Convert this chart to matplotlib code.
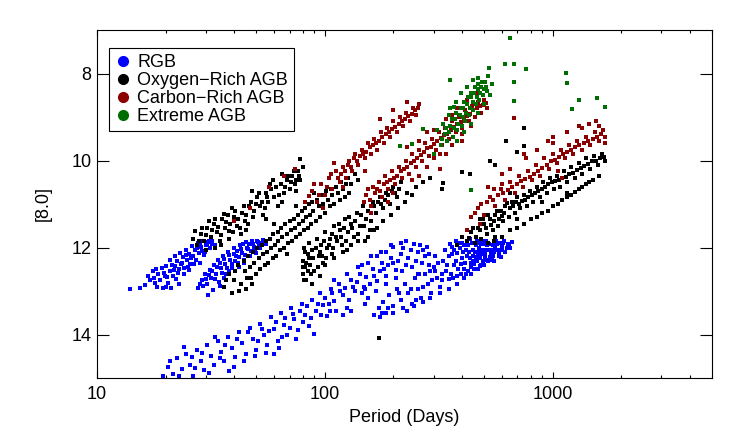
import numpy as np
import matplotlib
matplotlib.use("Agg")
import matplotlib.pyplot as plt
from matplotlib.lines import Line2D
from matplotlib.ticker import FixedLocator, LogLocator, NullFormatter

plt.rcParams['font.family'] = ['Liberation Sans', 'DejaVu Sans']

# (period in days, [8.0] mag), one list per clump

# RGB
rgb_a = [(15.5,12.93),(16.2,12.86),(17.1,12.75),(18.0,12.82),(18.6,12.61),(18.9,12.75),
         (19.3,12.47),(19.9,12.66),(20.1,12.43),(20.5,12.82),(20.9,12.29),(20.9,12.54),
         (21.6,12.66),(22.0,12.20),(22.0,12.43),(22.5,12.31),(22.7,12.59),(23.2,12.13),
         (23.4,12.38),(23.9,12.22),(24.2,12.47),(24.7,12.06),(24.9,12.29),(25.4,12.15),
         (25.6,12.38),(26.2,11.97),(26.4,12.20),(26.9,12.06),(27.2,12.29),(27.7,11.90),
         (28.0,12.13),(28.6,11.99),(29.2,11.85),(29.5,12.18),(30.1,11.95),(30.7,11.88),
         (31.3,12.02),(31.9,11.85),(19.5,12.93),(21.2,12.93),(25.4,12.52),(28.3,12.36),
         (32.9,11.95),(17.6,12.55),(24.0,12.60),(14.0,12.95),
         (16.8,12.65),(17.8,12.70),(18.3,12.90),(19.6,12.58),(20.3,12.68),(21.3,12.40),
         (21.8,12.52),(22.3,12.73),(23.0,12.50),(23.7,12.35),(24.5,12.18),(25.1,12.45),
         (25.9,12.25),(26.7,12.38),(27.5,12.02),(28.3,11.95),(29.0,12.08),(29.9,12.10),
         (30.5,11.92),(31.0,11.86),(32.0,11.92),(18.2,12.50),(20.0,12.90),(22.8,12.85)]
rgb_b = [(27.7,12.93),(28.9,12.75),(29.8,12.61),(30.4,12.84),(31.3,12.52),(31.6,12.70),
         (32.6,12.40),(33.3,12.61),(33.9,12.29),(34.3,12.79),(35.0,12.47),(35.8,12.20),
         (36.5,12.38),(36.9,12.61),(37.6,12.11),(38.4,12.29),(39.3,12.47),(40.1,12.02),
         (40.9,12.20),(41.7,12.36),(42.5,11.95),(43.4,12.13),(44.3,12.29),(45.1,11.88),
         (46.1,12.04),(47.0,12.20),(48.0,11.85),(49.0,11.99),(50.0,12.13),(51.0,11.88),
         (52.0,12.02),(53.6,11.83),(55.1,11.93),(32.3,12.98),(34.7,12.88),(30.7,13.10),
         (38.0,12.55),(44.0,12.35),(40.0,12.00),
         (29.2,12.88),(30.0,12.72),(31.0,12.63),(32.0,12.55),(32.9,12.72),(33.7,12.45),
         (34.6,12.35),(35.4,12.58),(36.2,12.27),(37.2,12.48),(38.0,12.18),(39.0,12.38),
         (39.8,12.15),(40.5,12.30),(41.3,12.08),(42.0,12.22),(43.0,12.03),(43.8,11.92),
         (44.8,12.18),(45.6,12.00),(46.6,11.92),(47.5,12.08),(48.5,11.92),(49.5,12.05),
         (50.5,11.86),(51.5,11.96),(52.8,11.90),(54.2,11.88),(28.3,12.85),(36.0,12.70),
         (42.0,12.45)]
rgb_c1 = [(19.5,14.95),(20.5,14.75),(21.5,14.90),(22.5,14.55),(23.5,14.80),(24.5,14.45),
          (25.5,14.70),(26.5,14.95),(27.5,14.35),(28.5,14.60),(29.5,14.82),(30.5,14.25),
          (31.5,14.50),(32.5,14.70),(34.0,14.15),(35.0,14.40),(36.0,14.62),(37.5,14.05),
          (39.0,14.30),(40.5,14.52),(42.0,13.95),(43.5,14.20),(45.0,14.45),(47.0,13.85),
          (48.5,14.10),(50.0,14.35),(52.0,13.75),(54.0,14.00),(56.0,14.25),(58.0,13.60),
          (60.0,13.88),(62.0,14.15),(64.0,13.50),(66.0,13.78),(68.5,14.02),(71.0,13.40),
          (73.5,13.65),(76.0,13.90),(79.0,13.30),(82.0,13.55),(85.0,13.80),(88.0,13.20),
          (91.0,13.45),(95.0,13.05),(98.0,13.32),(102.0,13.58),(106.0,12.95),(110.0,13.22),
          (115.0,12.85),(120.0,13.10),(125.0,13.38),(130.0,12.75),(136.0,13.00),(142.0,12.62),
          (148.0,12.90),(155.0,13.15),(162.0,12.50),(170.0,12.78),(178.0,12.35),(186.0,12.65),
          (195.0,12.25),(205.0,12.52),(215.0,12.15),(226.0,12.40),(238.0,12.05),(250.0,12.30),
          (262.0,11.95),(275.0,12.20),(290.0,12.55),(120.0,13.55),(105.0,13.45),(60.0,14.45),
          (40.0,14.75),
          (21.0,14.62),(23.0,14.95),(24.0,14.28),(26.0,14.52),(27.0,14.78),(29.0,14.42),
          (31.0,14.88),(33.0,14.05),(34.5,14.55),(36.5,14.25),(38.0,14.85),(41.0,14.10),
          (44.0,14.62),(46.0,13.95),(49.5,14.50),(51.0,14.15),(53.0,13.88),(55.0,14.42),
          (57.0,13.92),(61.0,13.72),(63.0,14.30),(65.0,14.05),(67.0,13.62),(70.0,13.85),
          (72.5,13.52),(75.0,14.10),(77.5,13.45),(80.5,13.72),(83.5,13.35),(86.5,13.62),
          (89.5,13.98),(93.0,13.30),(96.5,13.55),(100.0,13.15),(104.0,13.30),(108.0,13.05),
          (112.0,13.45),(117.0,13.00),(122.0,12.92),(128.0,13.20),(133.0,12.90),(139.0,12.80),
          (145.0,13.05),(152.0,12.68),(158.0,12.85),(165.0,12.65),(174.0,12.55),(182.0,12.50),
          (190.0,12.40),(200.0,12.35),(210.0,12.30),(220.0,12.00),(232.0,12.25),(245.0,11.92),
          (256.0,12.10),(268.0,12.35),(280.0,11.98),
          (110.0,12.75),(125.0,12.60),(140.0,12.45),(155.0,12.35),(170.0,12.20),(185.0,12.10),
          (200.0,11.98),(215.0,11.90),(150.0,13.30),(130.0,13.45),(145.0,12.40),(150.0,12.95),
          (160.0,12.20),(168.0,13.00),(176.0,12.10),(185.0,12.85),(195.0,11.95),(205.0,12.70),
          (218.0,12.55),(228.0,11.85),(240.0,12.45),(255.0,12.62),(270.0,12.05),(285.0,12.15)]
rgb_c2 = [(165,13.55),(172,13.40),(180,13.25),(185,13.50),(192,13.10),(200,13.35),
          (208,12.95),(216,13.20),(224,12.85),(232,13.05),(240,13.30),(248,12.70),
          (256,12.95),(265,13.15),(274,12.60),(283,12.85),(292,13.05),(300,12.45),
          (310,12.70),(320,12.90),(330,12.30),(340,12.55),(350,12.72),(360,12.15),
          (370,12.40),(380,12.65),(390,12.00),(400,12.25),(410,12.50),(420,11.88),
          (430,12.10),(440,12.35),(450,12.50),(460,11.95),(470,12.18),(480,12.42),
          (490,11.85),(500,12.05),(512,12.28),(525,11.92),(538,12.15),(550,12.30),
          (562,11.85),(575,12.05),(590,12.22),(605,11.90),(620,12.10),(640,11.95),
          (660,11.88),(335,12.05),(355,11.92),(375,11.85),(395,12.62),(415,12.60),
          (435,11.80),(455,12.50),(485,12.40),(285,12.40),(305,12.20),(260,12.60),
          (445,12.05),(470,11.90),(520,12.32),(400,11.90),(365,12.70),(425,12.55),
          (305,12.55),(315,12.35),(325,12.75),(345,12.40),(358,12.60),(368,12.05),
          (378,12.30),(385,12.50),(392,11.90),(405,12.10),(412,12.35),(418,12.05),
          (425,11.95),(432,12.25),(438,12.45),(443,11.90),(448,12.20),(453,12.38),
          (458,12.10),(463,11.85),(467,12.30),(473,12.02),(478,12.25),(483,11.92),
          (488,12.15),(494,12.30),(498,11.92),(505,12.15),(510,11.85),(518,12.05),
          (530,12.22),(545,11.95),(555,12.10),(568,11.92),(582,12.15),(597,11.98),
          (612,11.85),(630,12.02),(230,13.45),(250,13.20),(270,12.90),(295,12.75),
          (325,12.60),(190,13.40),(178,13.50),(212,13.05),(238,12.95),
          (175,13.60),(200,13.50),(220,13.40),(245,13.35),(270,13.25),(290,13.15),
          (320,13.05),(350,12.95),(380,12.85),(410,12.70),(440,12.60),(470,12.50),
          (500,12.40),(540,12.28),(580,12.20),(352,12.20),(362,11.98),(382,12.12),
          (397,12.38),(408,11.95),(422,12.20),(446,12.30),(462,12.22),(476,12.10),
          (492,12.05),(503,12.25),(515,11.95),(535,12.05),(548,12.20),(560,12.00),
          (587,11.90),(600,12.05),(635,11.92),(650,12.00)]

# Oxygen-rich AGB
orich_1 = [(26.5,11.80),(27.5,11.95),(28.5,11.70),(29.5,11.85),(30.5,11.55),(31.5,11.75),
           (32.5,11.45),(33.5,11.65),(34.5,11.85),(35.5,11.35),(36.5,11.55),(37.5,11.25),
           (38.5,11.45),(39.5,11.65),(40.5,11.15),(41.5,11.35),(42.5,11.55),(44.0,11.05),
           (45.0,11.25),(46.0,11.45),(47.5,10.95),(49.0,11.15),(50.5,10.85),(52.0,11.05),
           (53.5,11.25),(55.0,10.75),(56.5,10.95),(58.0,10.65),(60.0,10.85),(62.0,11.05),
           (64.0,10.55),(66.0,10.75),(68.0,10.45),(70.0,10.65),(72.0,10.35),(74.0,10.55),
           (76.0,10.25),(78.0,10.45),(80.0,10.15),(48.0,10.70),(38.0,11.80),(43.0,11.70),
           (59.0,10.45),(65.0,10.30),(33.0,12.00),(78.0,9.96),
           (27.0,11.62),(28.0,11.85),(29.0,11.55),(30.0,11.72),(31.0,11.40),(32.0,11.60),
           (33.0,11.35),(34.0,11.52),(35.0,11.72),(36.0,11.22),(37.0,11.42),(38.0,11.62),
           (39.0,11.10),(40.0,11.30),(41.0,11.50),(43.5,11.20),(44.5,11.40),(46.5,11.05),
           (48.5,11.30),(50.0,11.00),(51.5,10.75),(53.0,10.95),(54.5,11.10),(56.0,10.85),
           (57.5,10.55),(61.0,10.62),(63.0,10.80),(67.0,10.60),(69.0,10.35),(71.0,10.50),
           (73.0,10.25),(75.0,10.45),(77.0,10.35),
           (35.0,11.95),(45.0,11.60),(55.0,11.35),(65.0,10.95),(75.0,10.70),(30.0,12.05)]
orich_2 = [(36,12.90),(38,12.60),(39,13.05),(40,12.75),(41.5,12.40),(43,12.85),
           (44.5,12.55),(46,12.20),(47.5,12.70),(49,12.35),(50.5,12.00),(52,12.50),
           (53.5,12.15),(55,11.85),(56.5,12.35),(58,12.00),(59.5,11.70),(61,12.20),
           (62.5,11.85),(64,11.55),(66,12.00),(68,11.70),(70,11.40),(72,11.85),
           (74,11.55),(76,11.25),(78,11.70),(80,11.40),(82,11.10),(84,11.55),
           (86,11.25),(88,10.95),(91,11.40),(94,11.05),(97,10.80),(100,11.20),
           (103,10.90),(106,10.65),(110,11.00),(114,10.75),(118,10.50),(122,10.85),
           (126,10.40),(60,11.45),(75,11.05),(90,10.75),(45,12.95),(48,12.85),
           (68,12.15),
           (37,12.75),(40.5,12.55),(42,13.00),(44,12.30),(45.5,12.70),(47,12.45),
           (48.5,12.10),(50,12.60),(51.5,12.25),(53,11.95),(54.5,12.40),(56,12.10),
           (57.5,11.80),(59,12.25),(60.5,11.95),(62,11.65),(63.5,12.05),(65,11.75),
           (67,11.45),(69,11.90),(71,11.60),(73,11.35),(75,11.75),(77,11.45),
           (79,11.15),(81,11.60),(83,11.30),(85,11.00),(87,11.45),(89,11.15),
           (92,10.90),(95,11.30),(98,11.00),(101,10.70),(105,11.05),(108,10.80),
           (112,10.60),(116,10.90),(120,10.65),(124,10.55),
           (130,10.55),(135,10.30),(140,10.45),(128,10.75)]
orich_3 = [(80.5,12.30),(80.5,12.60),(81,12.00),(82,12.45),(83,12.75),(84,12.15),
           (85,11.90),(86,12.40),(88,12.05),(90,12.55),(92,11.80),(94,12.20),
           (96,11.95),(98,12.35),(100,11.65),(102,12.00),(105,11.80),(108,12.15),
           (110,11.50),(113,11.85),(116,11.60),(119,11.95),(122,11.35),(126,11.65),
           (130,11.45),(134,11.75),(138,11.20),(142,11.50),(147,11.05),(152,11.35),
           (157,11.60),(162,10.95),(168,11.20),(174,10.85),(180,11.10),(186,10.75),
           (193,11.00),(200,10.60),(208,10.85),(216,10.50),(150,11.85),(170,11.55),
           (95,12.65),(88,12.85),(125,12.05),
           (80.5,12.45),(81,12.75),(82,12.10),(83,12.35),(84,12.55),(85,12.25),
           (87,12.60),(89,12.25),(91,12.00),(93,12.45),(95,12.10),(97,12.20),
           (99,11.85),(101,12.25),(104,11.95),(107,11.70),(109,12.00),(112,11.75),
           (115,11.45),(118,11.75),(121,11.55),(124,11.85),(128,11.30),(132,11.55),
           (136,11.40),(140,11.70),(144,11.25),(149,11.50),(155,11.15),(160,11.40),
           (165,11.05),(171,10.95),(177,11.00),(183,10.90),(190,10.80),(197,10.70),
           (204,10.75),(212,10.65),
           (100,12.40),(110,12.25),(120,12.10),(130,11.95),(140,11.85),(155,11.75),
           (165,11.60),(180,11.40),(195,11.25),(210,11.10),(225,10.95),(240,10.80),
           (230,10.75),(250,10.60),(270,10.50),(290,10.40)]
orich_4 = [(420,11.85),(440,11.65),(455,11.90),(470,11.55),(485,11.80),(500,11.45),
           (515,11.70),(530,11.35),(545,11.60),(560,11.25),(575,11.50),(590,11.15),
           (605,11.40),(620,11.05),(640,11.30),(660,10.95),(680,11.20),(700,10.85),
           (720,11.10),(745,10.80),(770,11.05),(795,10.70),(820,10.95),(850,10.60),
           (880,10.85),(910,10.50),(940,10.75),(975,10.40),(1010,10.65),(1045,10.35),
           (1080,10.60),(1120,10.25),(1160,10.50),(1200,10.15),(1250,10.40),(1300,10.05),
           (1350,10.30),(1400,9.95),(1460,10.20),(1520,9.90),(1580,10.10),(1650,9.85),
           (1700,10.00),(560,11.75),(700,11.35),(900,10.95),(1150,10.75),(480,11.35),
           (650,10.75),(380,11.95),(400,11.75),
           (430,11.78),(448,11.55),(462,11.75),(478,11.60),(492,11.35),(508,11.55),
           (522,11.25),(538,11.48),(552,11.40),(568,11.15),(582,11.35),(598,11.28),
           (612,11.20),(630,10.98),(648,11.10),(670,11.05),(690,10.95),(710,11.00),
           (732,10.92),(757,10.90),(782,10.85),(808,10.80),(835,10.75),(865,10.70),
           (895,10.65),(925,10.62),(958,10.55),(990,10.50),(1028,10.48),(1062,10.45),
           (1100,10.40),(1140,10.38),(1180,10.30),(1225,10.28),(1275,10.22),(1325,10.18),
           (1375,10.12),(1430,10.08),(1490,10.02),(1550,10.00),(1615,9.95),(1680,9.92),
           (600,11.75),(700,11.55),(800,11.35),(900,11.20),(1000,11.05),(1100,10.90),
           (1200,10.80),(1300,10.65),(1400,10.55),(1500,10.45),(650,11.60),(750,11.45),
           (850,11.30),(950,11.15),(1050,11.00),(1150,10.85),(1250,10.72),(1350,10.60),
           (1450,10.50),(1600,10.35),(550,11.85),(520,11.90)]
orich_sparse = [(749,9.26),(749,9.67),(624,9.55),(400,10.26),(435,10.31),(325,10.65),
                (330,10.51),(530,10.01),(172,14.09),(700,9.80),(560,10.10)]

# Carbon-rich AGB
crich_1 = [(40,11.40),(47,11.10),(57,10.60),(66,10.35),(74,10.20)]
crich_2 = [(82,10.95),(88,10.70),(92,10.95),(96,10.55),(100,10.80),(104,10.40),
           (108,10.65),(112,10.25),(116,10.50),(120,10.15),(124,10.40),(128,10.00),
           (132,10.25),(136,9.85),(140,10.10),(145,9.75),(150,9.95),(155,9.60),
           (160,9.85),(165,9.50),(170,9.75),(176,9.35),(182,9.60),(188,9.25),
           (194,9.45),(200,9.10),(207,9.35),(214,9.00),(221,9.20),(228,8.90),
           (236,9.10),(244,8.80),(252,8.95),(260,8.70),(150,10.25),(120,10.60),
           (175,9.05),(200,8.85),(230,8.65),(110,10.05),(98,11.10),
           (85,10.82),(90,10.55),(94,10.80),(102,10.60),(106,10.30),(114,10.40),
           (118,10.30),(122,10.25),(126,10.10),(130,10.15),(134,9.95),(138,10.00),
           (143,9.90),(147,9.85),(152,9.80),(158,9.70),(163,9.65),(168,9.60),
           (173,9.55),(179,9.45),(185,9.40),(191,9.35),(197,9.28),(204,9.22),
           (211,9.15),(218,9.10),(225,9.05),(232,8.98),(240,8.92),(248,8.85),
           (256,8.80)]
crich_3 = [(148,10.95),(155,10.65),(160,11.05),(166,10.75),(172,10.50),(178,10.85),
           (184,10.35),(190,10.65),(197,10.25),(204,10.55),(211,10.15),(218,10.40),
           (226,10.00),(234,10.30),(242,9.85),(250,10.15),(258,9.75),(267,10.00),
           (276,9.60),(286,9.90),(296,9.50),(306,9.75),(316,9.35),(327,9.65),
           (338,9.25),(350,9.50),(362,9.10),(375,9.35),(388,9.00),(400,9.25),
           (414,8.85),(428,9.10),(442,8.75),(456,9.00),(470,8.65),(485,8.90),
           (500,8.60),(515,8.80),(260,10.35),(300,9.95),(230,9.70),(280,9.35),
           (340,9.85),(400,9.55),(190,10.95),(320,10.20),(360,8.95),
           (152,10.80),(158,10.90),(163,10.60),(169,10.65),(175,10.70),(181,10.55),
           (187,10.50),(194,10.45),(201,10.40),(208,10.35),(215,10.25),(222,10.20),
           (230,10.15),(238,10.05),(246,10.00),(254,9.95),(263,9.88),(272,9.80),
           (281,9.72),(291,9.68),(301,9.62),(311,9.55),(322,9.48),(333,9.42),
           (344,9.38),(356,9.30),(368,9.22),(381,9.15),(394,9.12),(407,9.05),
           (421,8.98),(435,8.92),(449,8.85),(463,8.80),(478,8.75),(492,8.72),
           (508,8.68),
           (160,11.20),(200,10.75),(240,10.45),(280,10.15),(320,9.85),(360,9.65),
           (400,9.40),(440,9.20),(260,9.55),(300,9.30),(340,9.05),(380,8.80),
           (420,8.60),(460,8.45)]
crich_4 = [(440,11.30),(470,11.10),(500,11.25),(530,10.85),(560,11.05),(590,10.65),
           (620,10.90),(650,10.50),(680,10.75),(710,10.35),(740,10.60),(775,10.25),
           (810,10.45),(845,10.10),(880,10.35),(920,9.95),(960,10.20),(1000,9.85),
           (1040,10.05),(1085,9.75),(1130,9.95),(1180,9.65),(1230,9.85),(1280,9.55),
           (1340,9.75),(1400,9.45),(1460,9.65),(1530,9.35),(1600,9.55),(1660,9.30),
           (1700,9.45),(520,10.60),(600,10.30),(760,9.95),(1000,9.60),(1350,9.25),
           (1550,9.10),(420,11.60),(480,11.45),(1100,10.40),(675,9.03),
           (455,11.20),(485,11.00),(515,10.95),(545,10.90),(575,10.80),(605,10.75),
           (635,10.68),(665,10.62),(695,10.55),(725,10.48),(758,10.42),(792,10.38),
           (828,10.30),(862,10.25),(900,10.18),(940,10.10),(980,10.02),(1020,9.98),
           (1062,9.92),(1108,9.85),(1155,9.80),(1205,9.75),(1255,9.70),(1310,9.65),
           (1370,9.60),(1430,9.55),(1495,9.50),(1565,9.45),(1630,9.40),(1690,9.60),
           (1000,9.45),(1050,10.25),(950,9.55),(1150,9.35),(1300,9.20),(1450,9.15),
           (1600,9.20),(850,9.75),(750,9.85),(650,10.20),(600,10.55),(550,10.65)]

# Extreme AGB
extreme = [(322,9.65),(335,9.40),(345,9.55),(355,9.20),(365,9.45),(372,9.05),
           (380,9.30),(390,8.95),(398,9.20),(405,8.80),(412,9.10),(420,8.70),
           (428,8.95),(436,8.55),(445,8.85),(452,8.45),(460,8.70),(468,8.35),
           (476,8.60),(485,8.30),(495,8.50),(505,8.20),(515,8.40),(300,9.85),
           (310,9.30),(355,8.80),(470,8.10),(520,8.05),(650,7.18),(617,7.78),
           (675,7.78),(1140,7.98),(1160,8.21),(1570,8.57),(1690,8.78),(1300,8.62),
           (1220,8.82),(355,8.16),(526,7.87),(760,7.89),(675,8.19),(675,8.64),
           (440,10.67),(270,9.28),(214,9.67),(242,9.62),(370,8.76),
           (328,9.50),(340,9.25),(350,9.35),(360,9.05),(368,9.25),(376,8.90),
           (385,9.15),(394,8.80),(402,9.00),(409,8.65),(416,8.90),(424,8.55),
           (432,8.80),(440,8.45),(448,8.65),(456,8.30),(464,8.55),(472,8.25),
           (480,8.45),(490,8.20),(500,8.35),(510,8.30),
           (330,9.15),(350,8.95),(375,8.65),(395,8.45),(420,8.30),(445,8.15),
           (380,9.55),(410,9.35),(440,9.15),(470,8.90),(500,8.70),(530,8.50),
           (540,8.25)]

groups = [
    ("RGB", "#0000ff", [rgb_a, rgb_b, rgb_c1, rgb_c2]),
    ("Oxygen\u2212Rich AGB", "#000000", [orich_1, orich_2, orich_3, orich_4, orich_sparse]),
    ("Carbon\u2212Rich AGB", "#8b0000", [crich_1, crich_2, crich_3, crich_4]),
    ("Extreme AGB", "#006e00", [extreme]),
]

fig = plt.figure(figsize=(7.42, 4.41), dpi=100)
ax = fig.add_axes([97/742, 1-378/441, 615/742, 348/441])

handles = []
for label, col, parts in groups:
    pts = np.array([p for part in parts for p in part])
    ax.scatter(pts[:, 0], pts[:, 1], s=5, marker='s', color=col, linewidths=0, zorder=2)
    handles.append(Line2D([], [], ls='none', marker='o', ms=7, color=col, label=label))

ax.set_xscale('log')
ax.set_xlim(10, 5000)
ax.set_ylim(15, 7)
ax.xaxis.set_major_locator(FixedLocator([10, 100, 1000]))
ax.set_xticklabels(['10', '100', '1000'])
ax.xaxis.set_minor_locator(LogLocator(base=10, subs=np.arange(2, 10)))
ax.xaxis.set_minor_formatter(NullFormatter())
ax.set_yticks([8, 10, 12, 14])

ax.tick_params(axis='x', which='major', direction='in', length=4.3, width=0.8,
               top=True, labelsize=13, pad=6)
ax.tick_params(axis='x', which='minor', direction='in', length=2.5, width=0.8, top=True)
ax.tick_params(axis='y', which='major', direction='in', length=8.6, width=0.8,
               right=True, labelsize=13, pad=4)
for s in ax.spines.values():
    s.set_linewidth(0.8)

ax.set_xlabel("Period (Days)", fontsize=13, labelpad=4)
ax.set_ylabel("[8.0]", fontsize=13, labelpad=14)

leg = ax.legend(handles=handles, loc='upper left', bbox_to_anchor=(0.0195, 0.948),
                borderaxespad=0, fontsize=13, frameon=True, fancybox=False,
                handlelength=0.87, handletextpad=0.35, labelspacing=0.05,
                borderpad=0.35)
leg.get_frame().set_edgecolor('black')
leg.get_frame().set_linewidth(0.8)
leg.get_frame().set_alpha(1)

fig.savefig("out.png", dpi=100)
